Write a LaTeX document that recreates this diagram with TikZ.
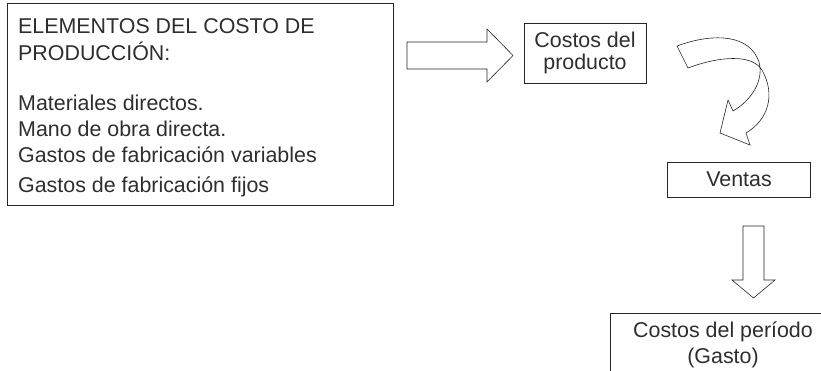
\documentclass[tikz,border=0pt]{standalone}
\usepackage{fontspec}
\setmainfont{Liberation Sans}
\begin{document}
\begin{tikzpicture}[x=1pt,y=-1pt,
  boxline/.style={draw=black!85,line width=0.8pt},
  txt/.style={text=black!82,inner sep=0pt,font=\fontsize{21.4}{24}\selectfont},
  blockarrow/.style={draw=black!85,line width=0.6pt,fill=white,line join=miter}]
  \useasboundingbox (0,0) rectangle (821,371);
  \clip (0,0) rectangle (821,371);

  % elements of production cost
  \node[boxline,minimum width=386pt,minimum height=202pt,inner sep=0pt] (elem) at (200,104) {};
  \node[txt,anchor=base west] (e1) at (18,34)  {ELEMENTOS DEL COSTO DE};
  \node[txt,anchor=base west] (e2) at (18,61)  {PRODUCCIÓN:};
  \node[txt,anchor=base west] (e3) at (18,111) {Materiales directos.};
  \node[txt,anchor=base west] (e4) at (18,137) {Mano de obra directa.};
  \node[txt,anchor=base west] (e5) at (18,163) {Gastos de fabricación variables};
  \node[txt,anchor=base west] (e6) at (18,193) {Gastos de fabricación fijos};

  % product costs
  \node[boxline,minimum width=122pt,minimum height=60pt,inner sep=0pt] (prod) at (585,53) {};
  \node[txt,anchor=base] (p1) at (585,48) {Costos del};
  \node[txt,anchor=base] (p2) at (585,70) {producto};

  % sales
  \node[boxline,minimum width=143pt,minimum height=35pt,inner sep=0pt] (ventas) at (738.5,179.5) {};
  \node[txt,anchor=base] (v1) at (739,187) {Ventas};

  % period costs
  \node[boxline,minimum width=226pt,minimum height=80pt,inner sep=0pt] (periodo) at (723,353) {};
  \node[txt,anchor=base] (c1) at (723,337) {Costos del período};
  \node[txt,anchor=base] (c2) at (723,363) {(Gasto)};

  % straight block arrow to the right
  \draw[blockarrow] (407,42) -- (487,42) -- (487,29) -- (513,55.5) -- (487,82)
    -- (487,69) -- (407,69) -- cycle;

  % curved block arrow down to sales
  \draw[blockarrow] (688,68) .. controls (720,56) and (752,54) .. (762,70)
    .. controls (776,95) and (768,120) .. (746,133)
    -- (750,145) -- (720,133) -- (728,100) -- (733,111)
    .. controls (752,100) and (764,80) .. (759,62)
    .. controls (750,35) and (715,32) .. (677,46) -- cycle;

  % block arrow pointing down
  \draw[blockarrow] (743,226) -- (764,226) -- (764,280) -- (775,280) -- (753.5,298)
    -- (732,280) -- (743,280) -- cycle;
\end{tikzpicture}
\end{document}
